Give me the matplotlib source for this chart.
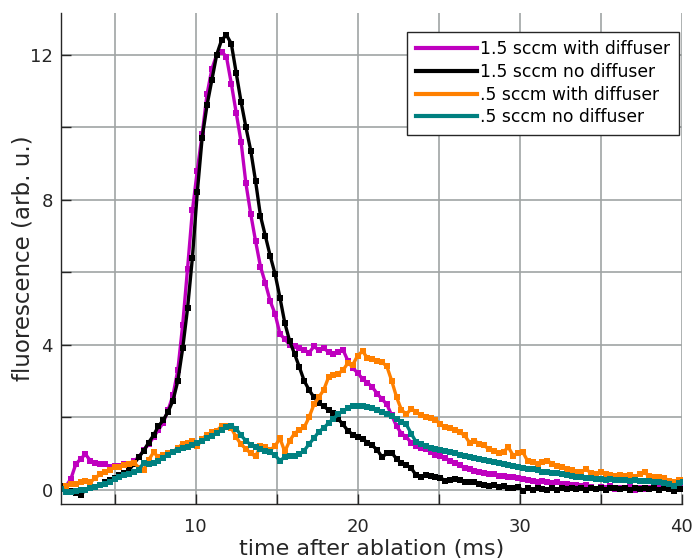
import numpy as np
import matplotlib
matplotlib.use("Agg")
import matplotlib.pyplot as plt

# sampled every 0.3 ms starting at 1.7 ms
t0 = 1.7
dt = 0.3

mag_diff = [0.05, 0.10, 0.30, 0.70, 0.85, 0.98, 0.80, 0.75, 0.70, 0.72,
            0.62, 0.65, 0.66, 0.70, 0.72, 0.80, 0.90, 1.10, 1.25, 1.45,
            1.65, 1.85, 2.20, 2.60, 3.30, 4.55, 6.10, 7.70, 8.80, 9.80,
            10.90, 11.60, 12.00, 12.08, 11.94, 11.20, 10.40, 9.60, 8.45, 7.60,
            6.85, 6.15, 5.70, 5.20, 4.85, 4.30, 4.15, 4.00, 3.95, 3.90,
            3.85, 3.78, 3.95, 3.85, 3.90, 3.80, 3.75, 3.80, 3.85, 3.55,
            3.35, 3.22, 3.05, 2.95, 2.83, 2.65, 2.50, 2.35, 2.05, 1.75,
            1.55, 1.45, 1.30, 1.20, 1.15, 1.12, 1.05, 0.97, 0.92, 0.87,
            0.80, 0.73, 0.67, 0.60, 0.56, 0.52, 0.50, 0.47, 0.44, 0.42,
            0.39, 0.38, 0.36, 0.34, 0.32, 0.30, 0.27, 0.25, 0.22, 0.24,
            0.20, 0.18, 0.20, 0.16, 0.15, 0.13, 0.14, 0.10, 0.12, 0.08,
            0.02, 0.07, 0.05, 0.09, 0.03, 0.06, 0.04, 0.07, 0.00, 0.05,
            0.03, 0.06, 0.04, 0.07, 0.05, 0.08, 0.06, 0.09, 0.08]

blk_nodiff = [0.10, 0.02, -0.03, -0.08, -0.15, 0.00, 0.04, 0.08, 0.12, 0.20,
              0.27, 0.33, 0.41, 0.46, 0.55, 0.72, 0.90, 1.08, 1.30, 1.50,
              1.75, 1.92, 2.15, 2.46, 3.00, 3.90, 5.00, 6.40, 8.20, 9.70,
              10.60, 11.30, 12.00, 12.40, 12.54, 12.30, 11.50, 10.70, 10.00, 9.35,
              8.50, 7.55, 7.00, 6.45, 5.95, 5.30, 4.60, 4.10, 3.75, 3.38,
              3.00, 2.75, 2.55, 2.40, 2.30, 2.20, 2.12, 1.95, 1.80, 1.62,
              1.52, 1.46, 1.40, 1.30, 1.22, 1.10, 0.90, 1.00, 1.02, 0.85,
              0.73, 0.68, 0.60, 0.40, 0.35, 0.40, 0.38, 0.35, 0.33, 0.25,
              0.27, 0.30, 0.28, 0.22, 0.20, 0.22, 0.15, 0.14, 0.11, 0.13,
              0.07, 0.09, 0.06, 0.05, 0.08, -0.03, 0.04, 0.00, 0.06, 0.01,
              -0.02, 0.04, 0.00, 0.05, 0.02, 0.06, 0.01, 0.04, -0.01, 0.05,
              0.03, 0.05, 0.00, 0.04, 0.06, 0.01, 0.04, -0.02, 0.05, 0.02,
              0.06, 0.03, 0.05, 0.00, 0.04, 0.02, -0.03, 0.03, 0.02]

org_diff = [0.03, 0.10, 0.16, 0.15, 0.22, 0.25, 0.20, 0.33, 0.42, 0.48,
            0.55, 0.62, 0.64, 0.68, 0.72, 0.75, 0.60, 0.55, 0.82, 1.03,
            0.90, 0.95, 1.00, 1.05, 1.15, 1.27, 1.30, 1.35, 1.20, 1.40,
            1.52, 1.58, 1.63, 1.75, 1.77, 1.70, 1.45, 1.25, 1.13, 1.00,
            0.92, 1.20, 1.17, 1.10, 1.20, 1.42, 1.05, 1.35, 1.55, 1.65,
            1.72, 2.00, 2.35, 2.55, 2.75, 3.10, 3.15, 3.20, 3.30, 3.50,
            3.45, 3.70, 3.82, 3.63, 3.60, 3.55, 3.52, 3.40, 3.00, 2.55,
            2.20, 2.08, 2.23, 2.15, 2.05, 2.00, 1.97, 1.93, 1.80, 1.72,
            1.70, 1.65, 1.58, 1.50, 1.30, 1.35, 1.27, 1.22, 1.12, 1.08,
            1.00, 1.05, 1.17, 0.94, 1.00, 1.03, 0.78, 0.76, 0.72, 0.76,
            0.80, 0.72, 0.66, 0.62, 0.57, 0.55, 0.50, 0.50, 0.57, 0.45,
            0.44, 0.48, 0.42, 0.40, 0.39, 0.41, 0.38, 0.40, 0.36, 0.42,
            0.48, 0.37, 0.34, 0.35, 0.33, 0.25, 0.20, 0.26, 0.27]

teal_nodiff = [0.03, -0.05, -0.06, -0.03, -0.01, 0.00, 0.04, 0.08, 0.12, 0.17,
               0.22, 0.29, 0.35, 0.40, 0.44, 0.48, 0.55, 0.75, 0.72, 0.75,
               0.80, 0.88, 0.97, 1.04, 1.09, 1.14, 1.19, 1.24, 1.29, 1.35,
               1.42, 1.48, 1.56, 1.65, 1.72, 1.76, 1.68, 1.50, 1.35, 1.24,
               1.17, 1.12, 1.08, 1.03, 0.95, 0.80, 0.90, 0.94, 0.94, 0.98,
               1.08, 1.26, 1.42, 1.60, 1.70, 1.84, 1.96, 2.08, 2.18, 2.24,
               2.30, 2.30, 2.30, 2.27, 2.25, 2.20, 2.13, 2.08, 2.02, 1.96,
               1.88, 1.80, 1.55, 1.32, 1.25, 1.20, 1.16, 1.12, 1.09, 1.06,
               1.03, 1.00, 0.96, 0.93, 0.90, 0.87, 0.85, 0.82, 0.79, 0.77,
               0.74, 0.72, 0.69, 0.66, 0.64, 0.61, 0.58, 0.56, 0.53, 0.50,
               0.48, 0.47, 0.45, 0.43, 0.41, 0.39, 0.36, 0.34, 0.33, 0.31,
               0.29, 0.30, 0.28, 0.29, 0.28, 0.27, 0.26, 0.25, 0.26, 0.24,
               0.25, 0.23, 0.22, 0.20, 0.19, 0.15, 0.11, 0.18, 0.20]

labels = ["1.5 sccm with diffuser", "1.5 sccm no diffuser",
          ".5 sccm with diffuser", ".5 sccm no diffuser"]
colors = ["#BF00BF", "#000000", "#FF8000", "#008080"]

fig = plt.figure(figsize=(6.95, 5.59), dpi=100)
ax = fig.add_axes([0.088, 0.098, 0.893, 0.879])

for ys, lab, c in zip([mag_diff, blk_nodiff, org_diff, teal_nodiff], labels, colors):
    t = t0 + dt * np.arange(len(ys))
    ax.plot(t, ys, '-s', color=c, lw=2.4, ms=3.8, mew=0, label=lab)

ax.set_xlim(1.7, 40)
ax.set_ylim(-0.4, 13.15)
ax.set_xticks(np.arange(5, 41, 5))
ax.set_xticklabels(['' if v % 10 else str(v) for v in range(5, 41, 5)])
ax.set_yticks(np.arange(0, 13, 2))
ax.set_yticklabels(['' if v % 4 else str(v) for v in range(0, 13, 2)])
ax.grid(True, color='#A0A4A4', lw=1.2)
ax.set_axisbelow(True)
ax.tick_params(direction='in', length=7, width=1, labelsize=13,
               colors='#262626')
ax.tick_params(axis='y', pad=6)
ax.tick_params(axis='x', pad=10)
for s in ['top', 'right']:
    ax.spines[s].set_visible(False)
for s in ['left', 'bottom']:
    ax.spines[s].set_color('#262626')
    ax.spines[s].set_linewidth(1)

ax.set_xlabel('time after ablation (ms)', fontsize=16, color='#262626', labelpad=2)
ax.set_ylabel('fluorescence (arb. u.)', fontsize=16.5, color='#262626', labelpad=-3)

leg = ax.legend(loc='upper right', bbox_to_anchor=(0.9955, 0.962), fontsize=12.3,
                frameon=True, fancybox=False, edgecolor='#262626',
                handlelength=3.55, handletextpad=0.22, borderpad=0.5,
                labelspacing=0.28, borderaxespad=0)
leg.get_frame().set_linewidth(1.0)
leg.get_frame().set_alpha(1)
for h in leg.legend_handles:
    h.set_marker('')
    h.set_linewidth(3)

fig.savefig('out.png', dpi=100)
